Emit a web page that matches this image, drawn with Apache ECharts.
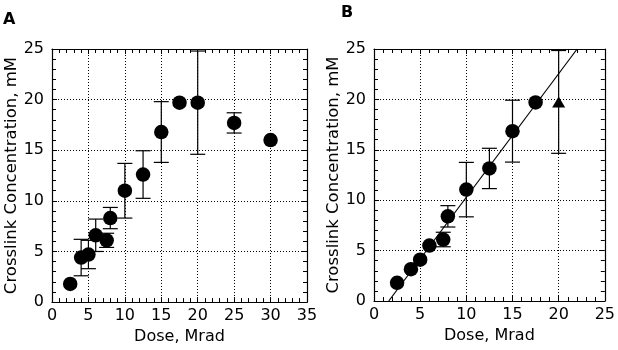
<!DOCTYPE html>
<html>
<head>
<meta charset="utf-8">
<script src="https://cdn.jsdelivr.net/npm/echarts@6/dist/echarts.min.js"></script>
<style>
html,body{margin:0;padding:0;background:#fff;}
#chart{width:618px;height:350px;}
</style>
</head>
<body>
<div id="chart"></div>
<script>
// Panel A data
var doseA = [2.5, 4, 5, 6, 7.5, 8, 10, 12.5, 15, 17.5, 20, 25, 30];
var concA = [1.8, 4.4, 4.7, 6.6, 6.1, 8.3, 11.0, 12.6, 16.8, 19.7, 19.7, 17.7, 16.0];
var errA  = [null, 1.8, 1.4, 1.6, 0.7, 1.05, 2.7, 2.35, 3.0, null, 5.1, 1.0, null];

// Panel B data (circles)
var doseB = [2.5, 4, 5, 6, 7.5, 8, 10, 12.5, 15, 17.5];
var concB = [1.8, 3.15, 4.1, 5.5, 6.1, 8.4, 11.05, 13.15, 16.85, 19.7];
var errB  = [null, null, null, null, 0.72, 1.06, 2.7, 2.0, 3.07, null];

// Panel B triangle point
var doseTri = [20];
var concTri = [19.75];
var errTri  = [5.1];

// Panel B fitted line endpoints
var fitX = [1.6, 22];
var fitY = [0, 25];

// Axis ticks
var xMaxA = 35, xMaxB = 25, yMax = 25, tickStep = 5;
var xTitle = 'Dose, Mrad';
var yTitle = 'Crosslink Concentration, mM';

var FONT = 'DejaVu Sans';

function zip(x, y, e) {
  var out = [];
  for (var i = 0; i < x.length; i++) out.push(e ? [x[i], y[i], e[i]] : [x[i], y[i]]);
  return out;
}
function errData(x, y, e) {
  var out = [];
  for (var i = 0; i < x.length; i++) if (e[i] != null) out.push([x[i], y[i], e[i]]);
  return out;
}

function axis(opts) {
  var base = {
    type: 'value',
    min: 0,
    max: opts.max,
    interval: tickStep,
    gridIndex: opts.grid,
    position: opts.position,
    axisLine: {show: true, onZero: false, lineStyle: {color: '#000', width: 1.2}},
    axisTick: {show: true, inside: true, length: 5, lineStyle: {color: '#000', width: 1}},
    minorTick: {show: true, splitNumber: 5, length: 4, lineStyle: {color: '#000', width: 1}},
    minorSplitLine: {show: false},
    splitLine: {show: !!opts.main, lineStyle: {color: '#000', width: 1, type: [1, 2]}},
    axisLabel: {show: !!opts.main, color: '#000', fontFamily: FONT, fontSize: 16, margin: opts.margin || 8},
    z: 5
  };
  if (opts.name) {
    base.name = opts.name;
    base.nameLocation = 'middle';
    base.nameGap = opts.nameGap;
    base.nameTextStyle = {color: '#000', fontFamily: FONT, fontSize: opts.nameSize || 16};
  }
  return base;
}

function errorRender(params, api) {
  var x = api.value(0), y = api.value(1), e = api.value(2);
  var top = api.coord([x, y + e]);
  var bot = api.coord([x, y - e]);
  var hw = 7.5;
  var style = {stroke: '#000', lineWidth: 1.2};
  return {
    type: 'group',
    children: [
      {type: 'line', shape: {x1: top[0], y1: top[1], x2: bot[0], y2: bot[1]}, style: style},
      {type: 'line', shape: {x1: top[0] - hw, y1: top[1], x2: top[0] + hw, y2: top[1]}, style: style},
      {type: 'line', shape: {x1: bot[0] - hw, y1: bot[1], x2: bot[0] + hw, y2: bot[1]}, style: style}
    ]
  };
}

var chart = echarts.init(document.getElementById('chart'), null, {renderer: 'canvas'});

var dot = {color: '#000', opacity: 1};

var option = {
  animation: false,
  backgroundColor: '#fff',
  textStyle: {fontFamily: FONT},
  graphic: [
    {type: 'text', left: 3, top: 12, style: {text: 'A', fontFamily: FONT, fontWeight: 'bold', fontSize: 16, fill: '#000'}},
    {type: 'text', left: 341, top: 5, style: {text: 'B', fontFamily: FONT, fontWeight: 'bold', fontSize: 16, fill: '#000'}}
  ],
  grid: [
    {left: 52, top: 49, width: 255, height: 254, show: false},
    {left: 374, top: 49, width: 232, height: 252, show: false}
  ],
  xAxis: [
    axis({grid: 0, max: xMaxA, position: 'bottom', main: true, name: xTitle, nameGap: 23, margin: 6}),
    axis({grid: 1, max: xMaxB, position: 'bottom', main: true, name: xTitle, nameGap: 23, margin: 6}),
    axis({grid: 0, max: xMaxA, position: 'top'}),
    axis({grid: 1, max: xMaxB, position: 'top'})
  ],
  yAxis: [
    axis({grid: 0, max: yMax, position: 'left', main: true, name: yTitle, nameGap: 28, nameSize: 16.5}),
    axis({grid: 1, max: yMax, position: 'left', main: true, name: yTitle, nameGap: 28, nameSize: 16.5}),
    axis({grid: 0, max: yMax, position: 'right'}),
    axis({grid: 1, max: yMax, position: 'right'})
  ],
  series: [
    {
      type: 'custom', xAxisIndex: 0, yAxisIndex: 0, renderItem: errorRender,
      data: errData(doseA, concA, errA), z: 3, silent: true
    },
    {
      type: 'scatter', xAxisIndex: 0, yAxisIndex: 0, symbol: 'circle', symbolSize: 14.5,
      itemStyle: dot, data: zip(doseA, concA), z: 4
    },
    {
      type: 'line', xAxisIndex: 1, yAxisIndex: 1, data: zip(fitX, fitY), showSymbol: false,
      lineStyle: {color: '#000', width: 1.2}, z: 3, silent: true
    },
    {
      type: 'custom', xAxisIndex: 1, yAxisIndex: 1, renderItem: errorRender,
      data: errData(doseB, concB, errB).concat(errData(doseTri, concTri, errTri)), z: 3, silent: true
    },
    {
      type: 'scatter', xAxisIndex: 1, yAxisIndex: 1, symbol: 'circle', symbolSize: 14.5,
      itemStyle: dot, data: zip(doseB, concB), z: 4
    },
    {
      type: 'scatter', xAxisIndex: 1, yAxisIndex: 1, symbol: 'triangle', symbolSize: [13, 11],
      itemStyle: dot, data: zip(doseTri, concTri), z: 4
    }
  ]
};
chart.setOption(option);
</script>
</body>
</html>
